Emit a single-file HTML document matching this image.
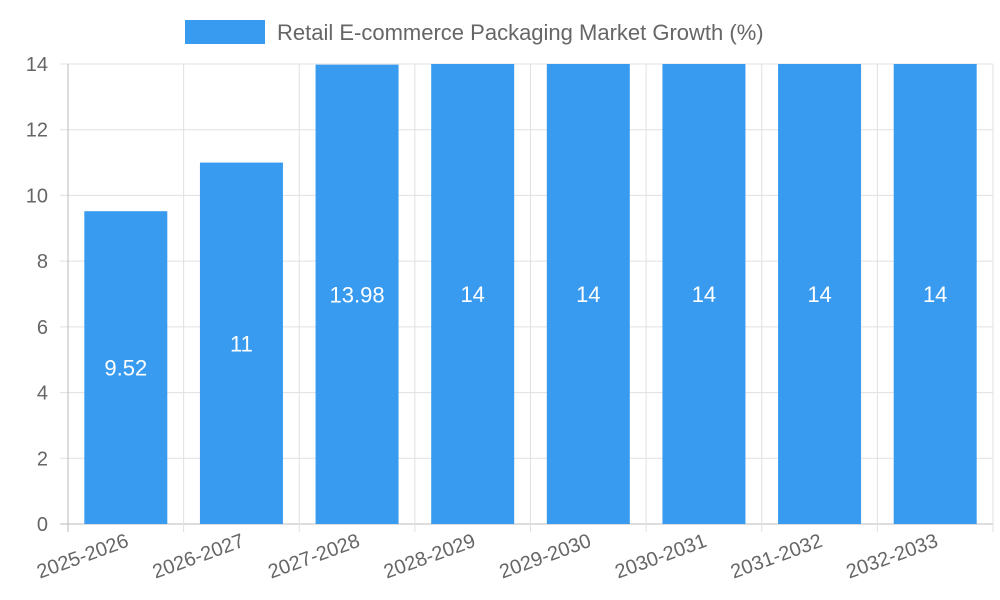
<!DOCTYPE html>
<html><head><meta charset="utf-8"><style>
body{margin:0;background:#fff;}
svg{display:block;font-family:"Liberation Sans",sans-serif;}
</style></head><body>
<svg id="chart" width="1000" height="600">
<g>
<rect x="185" y="20" width="80" height="24" fill="#399bf0"></rect>
<text x="277" y="40" font-size="22" fill="#666">Retail E-commerce Packaging Market Growth (%)</text>
</g>
<g id="grid"></g><g id="bars"></g><g id="labels"></g>
</svg>
<script>
const categories=["2025-2026","2026-2027","2027-2028","2028-2029","2029-2030","2030-2031","2031-2032","2032-2033"];
const values=[9.52,11,13.98,14,14,14,14,14];
const valueLabels=["9.52","11","13.98","14","14","14","14","14"];
const yTicks=[0,2,4,6,8,10,12,14];
const NS="http://www.w3.org/2000/svg";
const L=68,R=993,T=64,B=524,yMax=14;
const bw=(R-L)/categories.length;
const y=v=>B-(v/yMax)*(B-T);
const x=i=>L+i*bw;
function mk(tag,attrs,parent,text){const e=document.createElementNS(NS,tag);for(const k in attrs)e.setAttribute(k,attrs[k]);if(text!==undefined)e.textContent=text;document.getElementById(parent).appendChild(e);return e;}
yTicks.forEach(t=>{
 const g=mk("line",{x1:L-8,x2:R,y1:y(t),y2:y(t),stroke:t===0?"#bbb":"#e0e0e0","stroke-width":1},"grid");
 
 
 const l=mk("text",{x:48,y:y(t)+7,"text-anchor":"end","font-size":20,fill:"#666"},"grid",String(t));
 
 
});
for(let i=0;i<=categories.length;i++){
 const g=mk("line",{x1:x(i),x2:x(i),y1:T,y2:B+8,stroke:i===0?"#bbb":"#e0e0e0","stroke-width":1},"grid");
 
 
}
categories.forEach((c,i)=>{
 const cx=x(i)+bw/2;
 const r=mk("rect",{x:cx-41.5,y:y(values[i]),width:83,height:B-y(values[i]),fill:"#399bf0"},"bars");
 
 
 const v=mk("text",{x:cx,y:(y(values[i])+B)/2+8,"text-anchor":"middle","font-size":22,fill:"#fff"},"labels",valueLabels[i]);
 
 
 const t=mk("text",{x:cx+4,y:B+22,"text-anchor":"end","font-size":20,fill:"#666",transform:`rotate(-20 ${cx+4} ${B+22})`},"labels",c);
 
 
});
</script>
</body></html>
